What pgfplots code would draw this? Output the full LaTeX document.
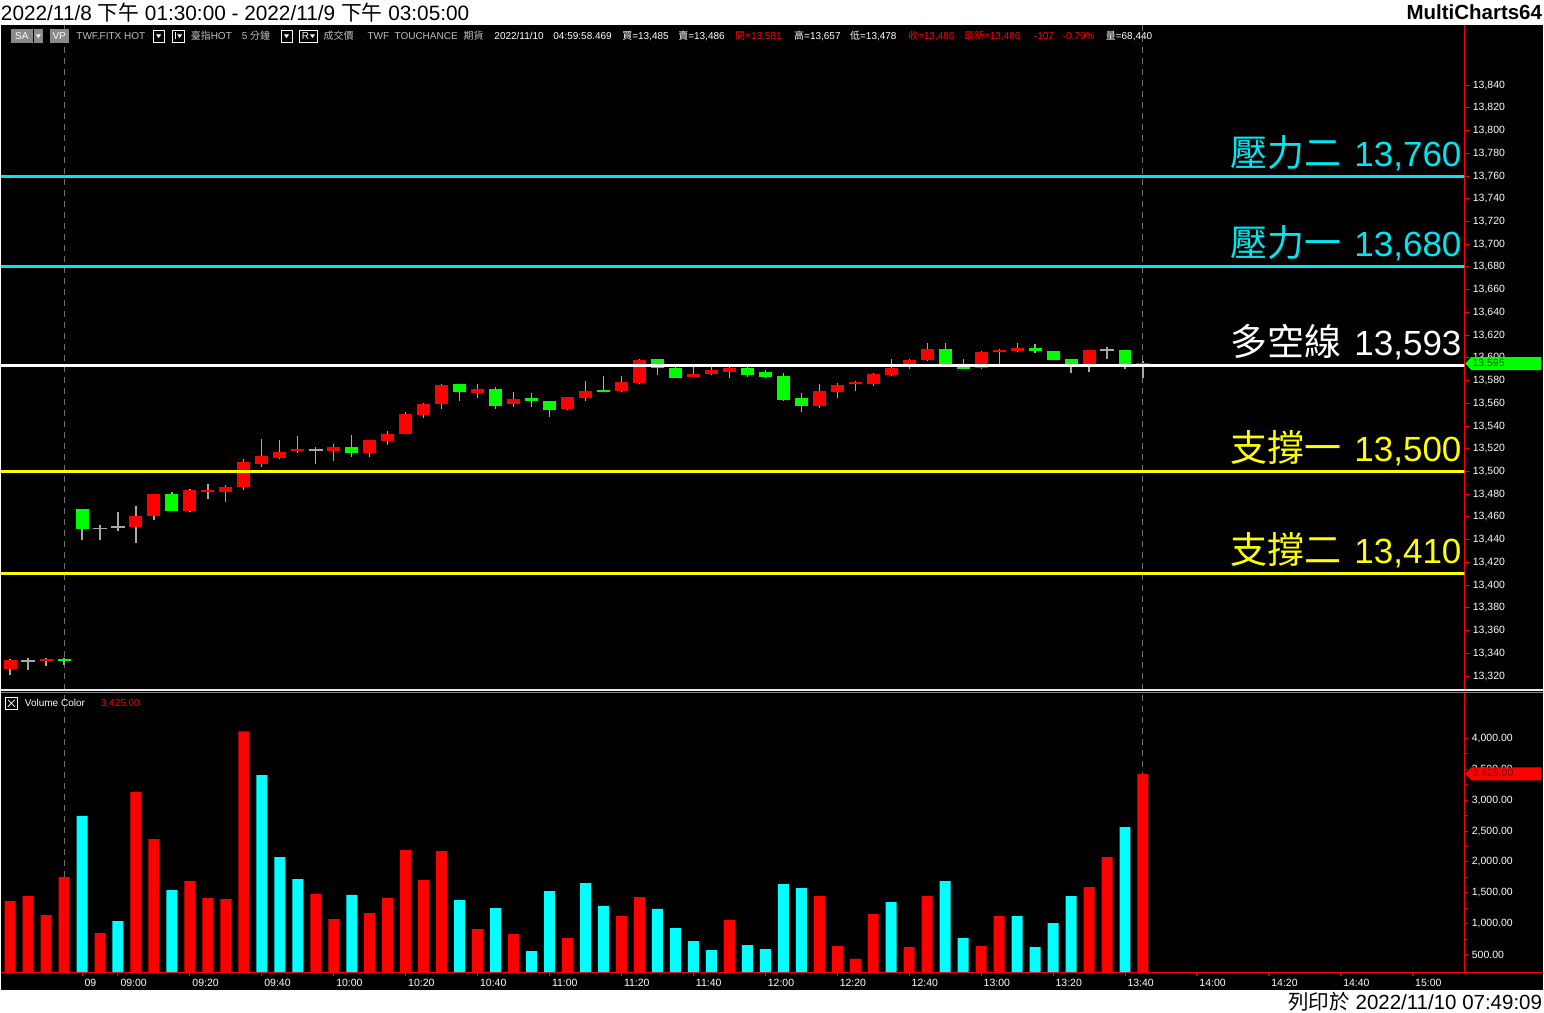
\documentclass[border=0pt]{standalone}
\usepackage{fontspec}
\setmainfont{Liberation Sans}
\newfontfamily\cjk{Noto Sans CJK TC}
\usepackage{pgfplots}
\usepackage{pgfplotstable}
\pgfplotsset{compat=1.18}

\definecolor{upred}{HTML}{FF0000}
\definecolor{dngreen}{HTML}{00FF00}
\definecolor{volcyan}{HTML}{00FFFF}
\definecolor{lvlcyan}{HTML}{00E6F0}
\definecolor{lvlyellow}{HTML}{FFFF00}
\definecolor{wickgray}{HTML}{A8A8A8}
\definecolor{infogray}{HTML}{BEBEBE}
\definecolor{dashgray}{HTML}{6E6E6E}
\definecolor{boxgray}{HTML}{8A8A8A}

\newcommand{\fs}[1]{\fontsize{#1}{#1}\selectfont}
\newcommand{\info}[3]{\node[anchor=west,inner sep=0pt,text=#2,font=\fs{10}] at (#1,36) {#3};}

% 5-min bars, i = bar index, open high low close
\pgfplotstableread{
i o h l c
0 13326 13335 13321 13334
2 13333 13336 13329 13335
7 13451 13470 13437 13461
8 13461 13480 13457 13480
10 13465 13485 13464 13484
11 13482 13489 13476 13484
12 13482 13488 13473 13486
13 13486 13511 13484 13508
14 13507 13529 13504 13514
15 13512 13528 13511 13517
16 13518 13531 13516 13520
18 13518 13524 13509 13522
20 13516 13528 13513 13528
21 13527 13536 13523 13533
22 13533 13552 13533 13551
23 13550 13560 13547 13559
24 13559 13577 13555 13576
26 13569 13577 13565 13573
28 13559 13570 13557 13564
31 13555 13566 13554 13566
32 13565 13580 13562 13571
34 13571 13584 13570 13579
35 13578 13599 13577 13598
38 13583 13592 13583 13586
39 13586 13592 13585 13589
40 13588 13595 13582 13591
45 13558 13577 13556 13571
46 13570 13578 13565 13576
47 13577 13580 13571 13579
48 13577 13587 13575 13586
49 13585 13599 13584 13591
50 13594 13599 13590 13598
51 13598 13613 13597 13608
54 13591 13606 13590 13605
55 13605 13608 13594 13607
56 13606 13613 13605 13609
60 13594 13607 13588 13607
63 13594 13597 13582 13595
}\upbars

\pgfplotstableread{
i o h l c
3 13335 13336 13330 13333
4 13467 13467 13440 13449
9 13480 13482 13465 13465
19 13522 13532 13513 13516
25 13577 13577 13562 13570
27 13573 13574 13555 13558
29 13565 13569 13557 13562
30 13562 13562 13548 13554
33 13572 13584 13570 13570
36 13599 13599 13585 13591
37 13591 13595 13582 13582
41 13591 13592 13583 13585
42 13588 13589 13582 13583
43 13584 13587 13562 13563
44 13565 13569 13552 13558
52 13608 13613 13594 13594
53 13592 13599 13591 13591
57 13609 13612 13604 13606
58 13606 13606 13598 13598
59 13599 13599 13587 13594
62 13607 13607 13590 13594
}\dnbars

\pgfplotstableread{
i o h l c
1 13333 13336 13325 13333
5 13450 13453 13440 13450
6 13451 13464 13448 13451
17 13519 13522 13507 13519
61 13607 13610 13599 13607
}\flatbars

% volume, red and cyan
\pgfplotstableread{
i v
0 1367
1 1449
2 1141
3 1755
5 850
7 3131
8 2369
10 1691
11 1417
12 1400
13 4113
17 1482
18 1077
20 1173
21 1417
22 2191
23 1708
24 2175
26 915
28 834
31 770
34 1126
35 1433
40 1061
45 1449
46 640
47 431
48 1157
50 624
51 1449
54 640
55 1126
60 1594
61 2079
63 3425
}\volred

\pgfplotstableread{
i v
4 2743
6 1044
9 1546
14 3402
15 2079
16 1724
19 1466
25 1384
27 1254
29 560
30 1530
32 1659
33 1288
36 1240
37 931
38 721
39 576
41 657
42 592
43 1643
44 1578
49 1351
52 1691
53 770
56 1126
57 624
58 1012
59 1449
62 2564
}\volcyan

\pgfplotsset{
  wick/.style={draw=none, no markers, forget plot,
    error bars/.cd, y dir=both, y explicit, error mark=none,
    error bar style={draw=wickgray, line width=1.2pt, solid}},
  body/.style 2 args={draw=none, no markers, forget plot,
    error bars/.cd, y dir=both, y explicit, error mark=none,
    error bar style={draw=#1, line width=#2, solid}},
}

\begin{document}
\begin{tikzpicture}
\begin{scope}[x=1pt,y=-1pt]
  \fill[white] (0,0) rectangle (1544,1014);
  \fill[black] (0,25) rectangle (1544,991);
  % session break and last bar
  \draw[dashgray, line width=1pt, dash pattern=on 6pt off 5pt] (63.5,25) -- (63.5,972);
  \draw[dashgray, line width=1pt, dash pattern=on 6pt off 5pt] (1143.3,25) -- (1143.3,972);
\end{scope}

% price panel
\begin{axis}[
  at={(0pt,-690pt)}, anchor=south west,
  width=1465pt, height=665pt, scale only axis,
  xmin=-0.517, xmax=80.87,
  ymin=13308.35, ymax=13892.97,
  axis x line=none, axis y line*=right,
  axis line style={draw=upred, line width=1pt},
  ytick={13320,13340,...,13840},
  minor y tick num=1,
  tick align=outside,
  major tick length=5pt, minor tick length=3pt,
  tick style={draw=upred, line width=1pt},
  yticklabel style={font=\fs{10.5}, text=white, anchor=west},
  /pgf/number format/1000 sep={,},
  /pgf/number format/assume math mode=true,
  scaled y ticks=false,
  clip mode=individual,
]
\addplot[wick] table[x=i, y expr={\thisrow{l}+(\thisrow{h}-\thisrow{l})/2}, y error expr={(\thisrow{h}-\thisrow{l})/2}] {\upbars};
\addplot[wick] table[x=i, y expr={\thisrow{l}+(\thisrow{h}-\thisrow{l})/2}, y error expr={(\thisrow{h}-\thisrow{l})/2}] {\dnbars};
\addplot[wick] table[x=i, y expr={\thisrow{l}+(\thisrow{h}-\thisrow{l})/2}, y error expr={(\thisrow{h}-\thisrow{l})/2}] {\flatbars};
\addplot[body={upred}{13pt}] table[x=i, y expr={\thisrow{o}+(\thisrow{c}-\thisrow{o})/2}, y error expr={max(abs(\thisrow{c}-\thisrow{o})/2,0.9)}] {\upbars};
\addplot[body={dngreen}{13pt}] table[x=i, y expr={\thisrow{o}+(\thisrow{c}-\thisrow{o})/2}, y error expr={max(abs(\thisrow{c}-\thisrow{o})/2,0.9)}] {\dnbars};
\addplot[body={wickgray}{14pt}] table[x=i, y=o, y error expr={0.7}] {\flatbars};

% levels
\addplot[lvlcyan, line width=3pt, forget plot] coordinates {(-1,13760) (82,13760)};
\addplot[lvlcyan, line width=3pt, forget plot] coordinates {(-1,13680) (82,13680)};
\addplot[white, line width=3pt, forget plot] coordinates {(-1,13593) (82,13593)};
\addplot[lvlyellow, line width=3pt, forget plot] coordinates {(-1,13500) (82,13500)};
\addplot[lvlyellow, line width=3pt, forget plot] coordinates {(-1,13410) (82,13410)};

\node[anchor=base east, inner sep=0pt, yshift=10pt, text=lvlcyan] at (axis cs:80.72,13760) {{\cjk\fs{37}壓力二}\hspace{13pt}{\fs{35}13,760}};
\node[anchor=base east, inner sep=0pt, yshift=10pt, text=lvlcyan] at (axis cs:80.72,13680) {{\cjk\fs{37}壓力一}\hspace{13pt}{\fs{35}13,680}};
\node[anchor=base east, inner sep=0pt, yshift=10pt, text=white] at (axis cs:80.72,13593) {{\cjk\fs{37}多空線}\hspace{13pt}{\fs{35}13,593}};
\node[anchor=base east, inner sep=0pt, yshift=10pt, text=lvlyellow] at (axis cs:80.72,13500) {{\cjk\fs{37}支撐一}\hspace{13pt}{\fs{35}13,500}};
\node[anchor=base east, inner sep=0pt, yshift=10pt, text=lvlyellow] at (axis cs:80.72,13410) {{\cjk\fs{37}支撐二}\hspace{13pt}{\fs{35}13,410}};

% last price tag
\fill[dngreen] (axis cs:80.87,13595) ++(1pt,0pt) -- ++(6pt,6.5pt) -- ++(70pt,0pt) -- ++(0pt,-13pt) -- ++(-70pt,0pt) -- cycle;
\node[anchor=west, inner sep=0pt, xshift=8pt, text=black!70!green, font=\fs{10.5}] at (axis cs:80.87,13595) {13,595};
\end{axis}

% volume panel
\begin{axis}[
  at={(0pt,-973pt)}, anchor=south west,
  width=1465pt, height=279pt, scale only axis,
  xmin=-0.517, xmax=80.87,
  ymin=220.6, ymax=4727,
  axis x line*=bottom, axis y line*=right,
  axis line style={draw=upred, line width=1pt},
  ytick={500,1000,...,4000},
  minor y tick num=1,
  xtick={4,6,10,14,18,22,26,30,34,38,42,46,50,54,58,62,66,70,74,78},
  xticklabels={09,09:00,09:20,09:40,10:00,10:20,10:40,11:00,11:20,11:40,12:00,12:20,12:40,13:00,13:20,13:40,14:00,14:20,14:40,15:00},
  tick align=outside,
  major tick length=4pt, minor tick length=3pt,
  tick style={draw=upred, line width=1pt},
  yticklabel style={font=\fs{10.5}, text=white, anchor=west,
    /pgf/number format/.cd, fixed, fixed zerofill, precision=2, 1000 sep={,}, assume math mode=true},
  xticklabel style={font=\fs{10.5}, text=white, anchor=north west, xshift=-1pt},
  scaled y ticks=false,
  clip mode=individual,
]
\addplot[ybar, bar width=11pt, bar shift=0pt, fill=upred, draw=none] table[x=i, y=v] {\volred};
\addplot[ybar, bar width=11pt, bar shift=0pt, fill=volcyan, draw=none] table[x=i, y=v] {\volcyan};
\fill[upred] (axis cs:80.87,3425) ++(1pt,0pt) -- ++(6pt,6.5pt) -- ++(70pt,0pt) -- ++(0pt,-13pt) -- ++(-70pt,0pt) -- cycle;
\node[anchor=west, inner sep=0pt, xshift=8pt, text=black!55!red, font=\fs{10.5}] at (axis cs:80.87,3425) {3,425.00};
\end{axis}

\begin{scope}[x=1pt,y=-1pt]
  % panel separator and axis line in the right column
  \draw[white!85!gray, line width=1.6pt] (0,691) -- (1544,691);
  \draw[gray, line width=1.4pt] (0,693.3) -- (1544,693.3);
  \draw[upred, line width=1pt] (1465,973) -- (1544,973);

  % title bar
  \node[anchor=west, inner sep=0pt, font=\fs{20.8}] at (0,12.5) {2022/11/8 {\cjk 下午} 01:30:00 - 2022/11/9 {\cjk 下午} 03:05:00};
  \node[anchor=east, inner sep=0pt, font=\fs{20.5}\bfseries] at (1543,12.5) {MultiCharts64};
  \node[anchor=east, inner sep=0pt, font=\fs{20.5}] at (1543,1002.5) {{\cjk 列印於} 2022/11/10 07:49:09};

  % info row
  \fill[boxgray] (10,29) rectangle (32,43);
  \node[text=white, font=\fs{10}, inner sep=0pt] at (21,36) {SA};
  \fill[boxgray] (33,29) rectangle (42,43);
  \fill[white] (35,34.5) -- (40,34.5) -- (37.5,38) -- cycle;
  \fill[boxgray] (49,29) rectangle (68,43);
  \node[text=white, font=\fs{10}, inner sep=0pt] at (58.5,36) {VP};
  \info{75.5}{infogray}{TWF.FITX HOT}
  \draw[white, line width=0.8pt] (152.5,30) rectangle (163.5,42);
  \fill[white] (155.5,34.5) -- (160.5,34.5) -- (158,38) -- cycle;
  \draw[white, line width=0.8pt] (171.5,30) rectangle (184,42);
  \draw[white, line width=0.8pt] (175,32.5) -- (175,39.5);
  \fill[white] (176.5,34.5) -- (181.5,34.5) -- (179,38) -- cycle;
  \info{190}{infogray}{{\cjk 臺指}HOT}
  \info{241}{infogray}{5 {\cjk 分鐘}}
  \draw[white, line width=0.8pt] (280.5,30) rectangle (291.5,42);
  \fill[white] (283.5,34.5) -- (288.5,34.5) -- (286,38) -- cycle;
  \draw[white, line width=0.8pt] (298.5,30) rectangle (317,42);
  \node[text=white, font=\fs{10}, inner sep=0pt] at (305,36) {R};
  \fill[white] (309.5,34.5) -- (314.5,34.5) -- (312,38) -- cycle;
  \info{323}{infogray}{\cjk 成交價}
  \info{367}{infogray}{TWF}
  \info{394}{infogray}{TOUCHANCE}
  \info{463}{infogray}{\cjk 期貨}
  \info{494}{white}{2022/11/10}
  \info{553}{white}{04:59:58.469}
  \info{622}{white}{{\cjk 買}=13,485}
  \info{678}{white}{{\cjk 賣}=13,486}
  \info{735}{upred}{{\cjk 開}=13,581}
  \info{794}{white}{{\cjk 高}=13,657}
  \info{850}{white}{{\cjk 低}=13,478}
  \info{908}{upred}{{\cjk 收}=13,486}
  \info{964}{upred}{{\cjk 最新}=13,486}
  \info{1034}{upred}{-107}
  \info{1063}{upred}{-0.79\%}
  \info{1106}{white}{{\cjk 量}=68,440}

  % volume panel header
  \draw[white, line width=0.8pt] (4.5,698) rectangle (16.5,710);
  \draw[white, line width=0.7pt] (7,700.5) -- (14,707.5) (14,700.5) -- (7,707.5);
  \node[anchor=west, inner sep=0pt, text=white, font=\fs{10}] at (24,704) {Volume Color};
  \node[anchor=west, inner sep=0pt, text=upred, font=\fs{10}] at (100,704) {3,425.00};
\end{scope}
\end{tikzpicture}
\end{document}
